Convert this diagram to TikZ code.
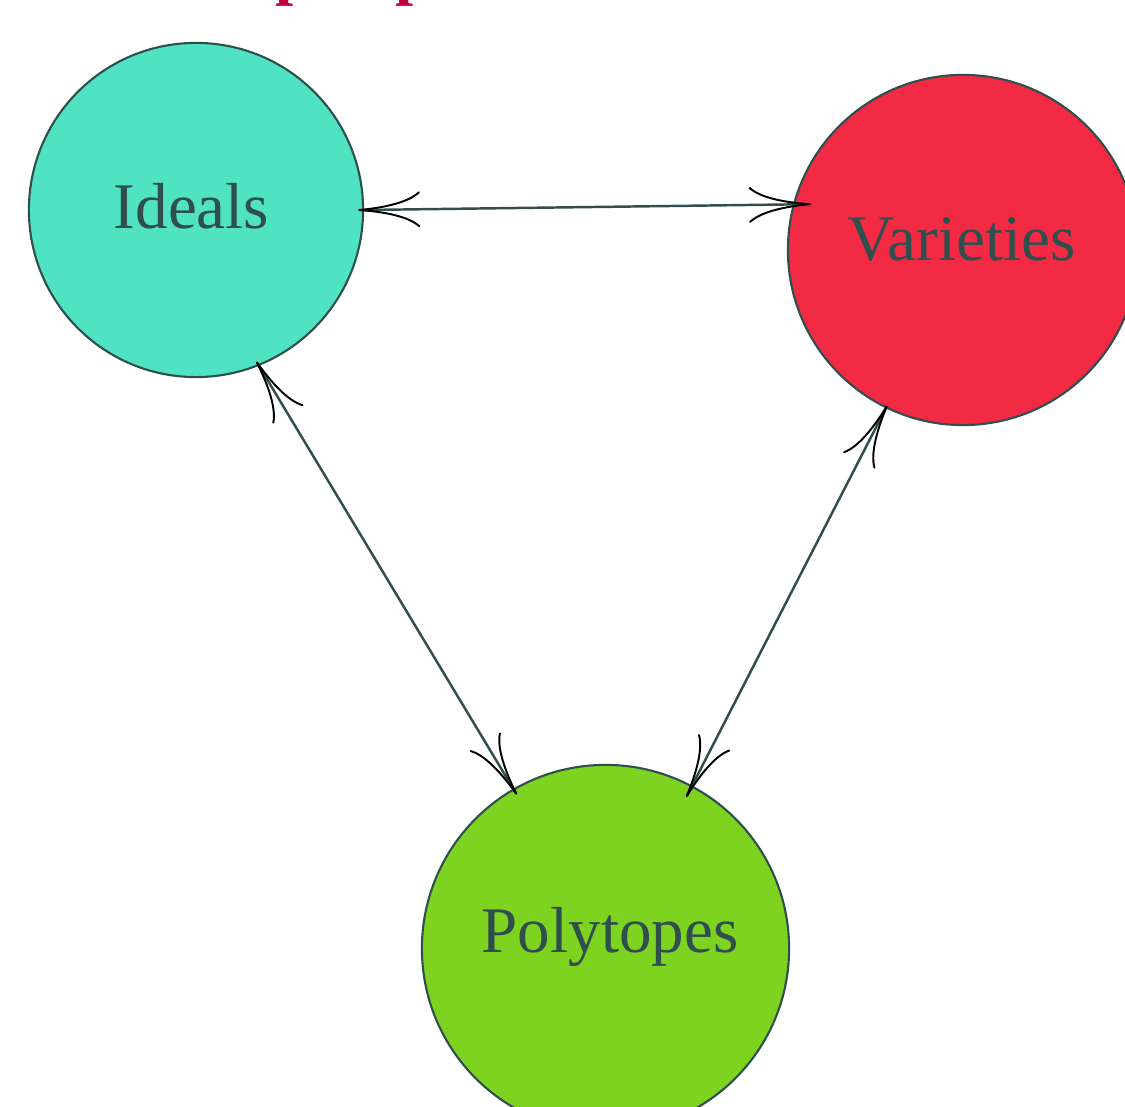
\documentclass[tikz,border=0pt]{standalone}
\usepackage{fontspec}
\setmainfont{Liberation Serif}
\usepackage{xcolor}
\usetikzlibrary{arrows.meta}
\definecolor{slate}{HTML}{2F4F4F}
\definecolor{aqua}{HTML}{50E3C2}
\definecolor{redv}{HTML}{F22A43}
\definecolor{leaf}{HTML}{7ED321}
\definecolor{titlered}{RGB}{195,0,70}

\begin{document}
\begin{tikzpicture}[x=0.01cm,y=-0.01cm,
    >={Computer Modern Rightarrow[black,length=0.62cm,width=0.36cm,line width=0.55pt]},
    ball/.style={circle,draw=slate,line width=0.6pt,inner sep=0pt},
    word/.style={anchor=base,text=slate,inner sep=0pt,font=\fontsize{18.5}{22}\selectfont},
    link/.style={<->,draw=slate,line width=0.7pt}]
          \useasboundingbox (0,0) rectangle (1125,1107);
          % title, mostly above the page
          \node[anchor=base west,text=titlered,inner sep=0pt,
                font=\fontsize{18.5}{22}\selectfont\bfseries] (title) at (94,-7) {Three perspectives};
          % the three circles
          \node[ball,fill=aqua,minimum size=3.34cm] (ideals) at (196,210) {};
          \node[ball,fill=redv,minimum size=3.5cm] (varieties) at (963,250) {};
          \node[ball,fill=leaf,minimum size=3.67cm] (polytopes) at (605.5,948.5) {};
          \node[word] (ideals-text) at (191.5,229) {Ideals};
          \node[word] (varieties-text) at (961.5,261) {Varieties};
          \node[word] (polytopes-text) at (610,952) {Polytopes};
          % links
          \draw[link,shorten <=-0.06cm,shorten >=-0.18cm] (ideals.0) -- (varieties.165);
          \draw[link,shorten <=-0.05cm,shorten >=-0.07cm] (ideals.-68.5) -- (polytopes.120.9);
          \draw[link,shorten <=-0.03cm,shorten >=-0.13cm] (varieties.-116) -- (polytopes.62.6);
\end{tikzpicture}
\end{document}
